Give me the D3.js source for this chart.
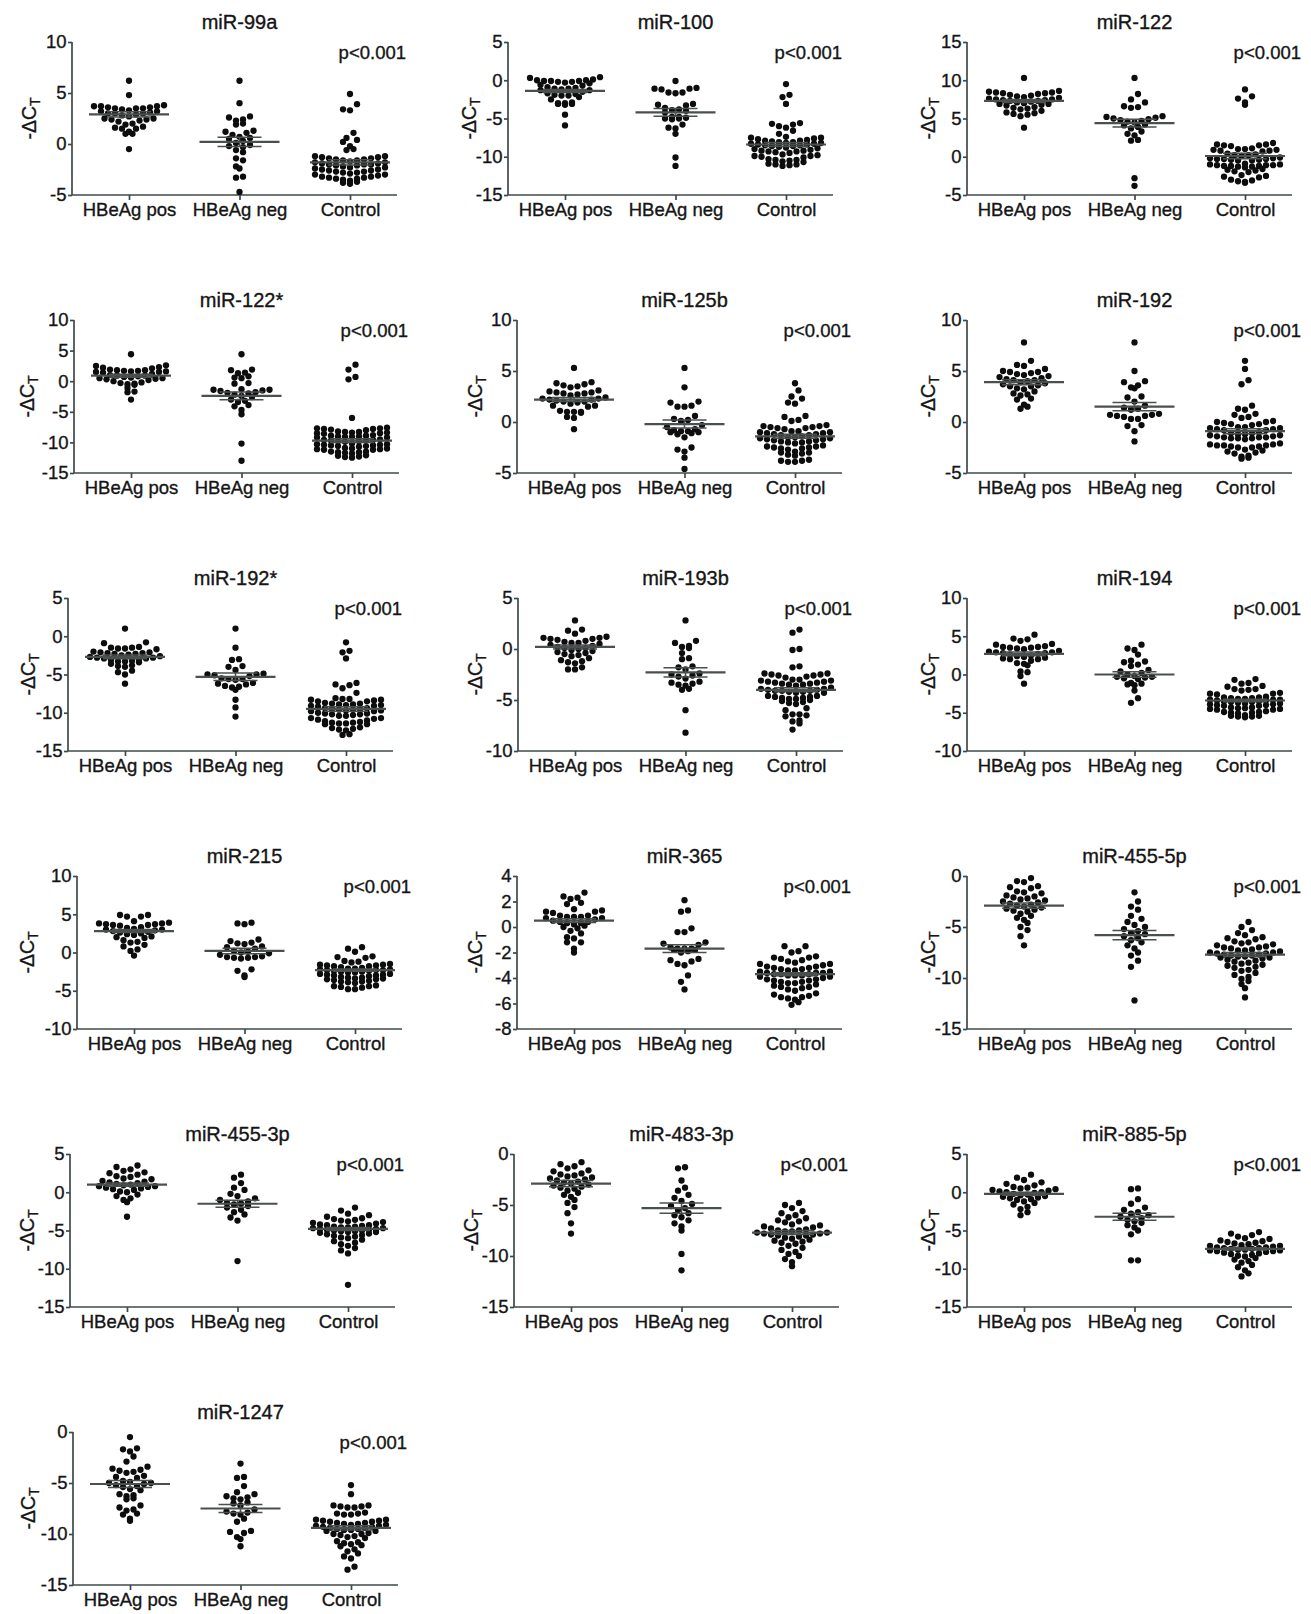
<!DOCTYPE html>
<html><head><meta charset="utf-8">
<script src="https://cdn.jsdelivr.net/npm/d3@7"></script>
<style>
body{margin:0;background:#fff;}
text{font-family:Arial,"Liberation Sans",Helvetica,sans-serif;fill:#151515;}
</style>
</head><body>
<svg id="chart" width="1311" height="1614"></svg>
<script>
const categories = ["HBeAg pos", "HBeAg neg", "Control"];
const mirnas = ["miR-99a","miR-100","miR-122","miR-122*","miR-125b","miR-192","miR-192*","miR-193b","miR-194","miR-215","miR-365","miR-455-5p","miR-455-3p","miR-483-3p","miR-885-5p","miR-1247"];
const yDomains = [[-5,10],[-15,5],[-5,15],[-15,10],[-5,10],[-5,10],[-15,5],[-10,5],[-10,10],[-10,10],[-8,4],[-15,0],[-15,5],[-15,0],[-15,5],[-15,0]];
const yTickSteps = [5,5,5,5,5,5,5,5,5,5,2,5,5,5,5,5];
const pLabels = ["p<0.001","p<0.001","p<0.001","p<0.001","p<0.001","p<0.001","p<0.001","p<0.001","p<0.001","p<0.001","p<0.001","p<0.001","p<0.001","p<0.001","p<0.001","p<0.001"];
const yLabel = "-ΔC";
const yLabelSub = "T";

const hbeagPos = [
 [6.2,4.8,3.8,3.7,3.7,3.7,3.6,3.6,3.5,3.5,3.5,3.4,3.3,3.2,3.2,3.1,3.0,3.0,3.0,2.9,2.8,2.7,2.5,2.5,2.4,2.4,2.3,2.2,2.0,1.9,1.7,1.6,1.5,1.5,1.2,1.0,1.0,-0.5],
 [0.4,0.3,0.1,0.0,0.0,-0.1,-0.1,-0.1,-0.2,-0.2,-0.3,-0.4,-0.6,-0.7,-0.9,-1.0,-1.1,-1.1,-1.2,-1.3,-1.3,-1.5,-1.7,-1.8,-1.9,-2.0,-2.0,-2.2,-2.5,-2.9,-3.0,-3.0,-3.1,-3.1,-3.2,-4.5,-5.9],
 [10.3,8.6,8.5,8.4,8.4,8.3,8.3,8.2,8.1,8.0,7.9,7.8,7.7,7.6,7.5,7.5,7.4,7.4,7.3,7.3,7.2,7.1,7.0,6.9,6.9,6.8,6.7,6.5,6.4,6.3,6.2,6.0,5.8,5.7,5.6,5.5,5.3,3.8],
 [4.4,2.6,2.5,2.3,2.2,2.1,1.9,1.8,1.8,1.7,1.7,1.6,1.6,1.5,1.5,1.4,1.2,1.0,0.9,0.9,0.8,0.7,0.6,0.5,0.5,0.4,0.3,0.2,0.0,-0.2,-0.3,-0.4,-0.5,-0.6,-1.1,-1.7,-1.8,-3.0],
 [5.3,3.9,3.8,3.7,3.6,3.5,3.4,3.1,3.0,2.9,2.9,2.8,2.8,2.7,2.6,2.4,2.3,2.3,2.2,2.2,2.1,2.0,2.0,1.9,1.8,1.6,1.6,1.5,1.1,1.0,1.0,1.0,0.9,0.5,0.4,-0.7],
 [7.8,6.0,5.6,5.5,5.2,5.0,4.9,4.9,4.8,4.7,4.6,4.5,4.4,4.3,4.2,4.1,4.1,4.0,3.9,3.8,3.7,3.6,3.5,3.5,3.3,3.2,3.0,2.8,2.7,2.6,2.3,2.2,1.7,1.5,1.3],
 [1.0,-0.8,-0.9,-1.4,-1.5,-1.5,-1.6,-1.6,-1.7,-2.0,-2.1,-2.1,-2.2,-2.2,-2.3,-2.3,-2.4,-2.5,-2.6,-2.7,-2.8,-2.8,-2.9,-2.9,-3.0,-3.1,-3.2,-3.3,-3.3,-3.4,-3.6,-3.8,-3.9,-4.0,-4.5,-4.7,-5.0,-6.2],
 [2.8,1.9,1.8,1.5,1.2,1.1,1.1,1.0,1.0,0.9,0.8,0.7,0.6,0.6,0.5,0.4,0.3,0.2,0.1,0.1,0.0,-0.1,-0.2,-0.3,-0.4,-0.5,-0.6,-0.7,-0.9,-1.1,-1.2,-1.3,-1.4,-1.8,-2.0,-2.0],
 [5.2,4.7,4.6,4.4,4.0,3.9,3.7,3.6,3.6,3.5,3.5,3.4,3.3,3.1,3.0,2.9,2.9,2.8,2.8,2.7,2.6,2.5,2.4,2.3,2.2,2.1,2.0,2.0,1.8,1.5,1.4,1.2,0.4,0.3,-0.2,-1.2],
 [4.9,4.9,4.7,4.7,4.1,3.9,3.8,3.8,3.7,3.7,3.6,3.6,3.5,3.3,3.2,3.1,3.0,3.0,2.9,2.8,2.7,2.6,2.5,2.4,2.3,2.1,2.0,1.9,1.6,1.4,1.3,1.0,0.8,0.4,0.2,-0.4],
 [2.7,2.4,2.3,2.2,1.9,1.8,1.4,1.3,1.2,1.2,1.1,0.9,0.9,0.8,0.8,0.8,0.7,0.7,0.6,0.5,0.4,0.4,0.3,0.3,0.2,0.1,0.0,-0.1,-0.3,-0.5,-0.8,-0.9,-1.2,-1.2,-1.7,-2.0],
 [-0.2,-0.5,-0.6,-1.0,-1.1,-1.2,-1.5,-1.6,-1.7,-1.9,-2.0,-2.1,-2.2,-2.3,-2.4,-2.5,-2.6,-2.7,-2.8,-2.9,-3.0,-3.1,-3.2,-3.3,-3.4,-3.5,-3.7,-3.9,-4.1,-4.3,-4.6,-5.0,-5.3,-5.9,-6.8],
 [3.5,3.3,3.0,2.8,2.6,2.5,2.3,2.1,2.0,1.8,1.7,1.5,1.4,1.3,1.2,1.1,1.0,0.9,0.8,0.8,0.7,0.6,0.5,0.4,0.3,0.1,0.0,-0.3,-0.5,-0.8,-1.0,-1.3,-3.2],
 [-0.8,-1.0,-1.2,-1.4,-1.6,-1.7,-1.9,-2.0,-2.1,-2.2,-2.3,-2.4,-2.5,-2.6,-2.7,-2.8,-2.9,-3.0,-3.1,-3.2,-3.3,-3.4,-3.6,-3.8,-4.0,-4.2,-4.5,-4.8,-5.2,-5.8,-6.8,-7.8],
 [2.3,1.9,1.6,1.3,1.1,0.9,0.7,0.6,0.5,0.4,0.3,0.2,0.1,0.0,0.0,-0.1,-0.2,-0.3,-0.4,-0.5,-0.6,-0.7,-0.8,-0.9,-1.0,-1.2,-1.4,-1.6,-1.9,-2.2,-2.6,-3.0],
 [-0.5,-1.6,-1.7,-1.9,-2.4,-2.9,-3.4,-3.6,-3.7,-3.8,-3.9,-4.0,-4.3,-4.4,-4.5,-4.8,-4.9,-5.0,-5.0,-5.1,-5.2,-5.3,-5.4,-5.6,-5.7,-6.1,-6.2,-6.3,-6.5,-6.6,-7.2,-7.4,-7.6,-7.7,-8.0,-8.1,-8.5,-8.7]
];

const hbeagNeg = [
 [6.2,4.0,2.7,2.6,2.4,2.3,2.0,1.9,1.3,1.2,1.1,0.9,0.7,0.6,0.5,0.3,0.1,-0.1,-0.2,-0.3,-0.6,-0.8,-1.4,-1.6,-2.2,-2.4,-3.2,-3.3,-4.7],
 [-0.1,-1.0,-1.1,-1.1,-1.2,-1.6,-1.6,-1.7,-3.1,-3.2,-3.3,-3.6,-3.8,-3.9,-4.0,-4.2,-4.8,-4.8,-4.9,-5.0,-5.0,-5.1,-5.8,-6.2,-6.3,-7.0,-10.1,-11.2],
 [10.3,8.2,7.5,7.1,6.6,6.5,6.4,5.3,5.2,5.1,5.0,4.9,4.8,4.7,4.6,4.5,4.2,4.1,3.9,3.7,3.3,3.0,2.8,2.2,2.1,-2.8,-3.8],
 [4.4,1.9,1.8,1.4,1.3,0.8,0.6,0.5,-0.3,-0.4,-1.3,-1.4,-1.4,-1.5,-1.6,-1.8,-1.9,-2.0,-2.2,-2.4,-2.6,-3.0,-3.2,-3.4,-3.9,-4.1,-4.7,-5.4,-10.2,-13.0],
 [5.3,3.4,2.0,1.9,1.6,1.5,1.5,0.6,0.3,0.2,0.1,-0.3,-0.5,-0.7,-0.8,-0.9,-0.9,-1.0,-1.0,-1.1,-1.2,-1.5,-2.5,-2.7,-2.9,-3.5,-4.6],
 [7.8,5.0,4.0,3.9,3.6,3.4,3.3,2.5,2.4,2.0,1.6,1.4,1.3,1.2,0.8,0.7,0.7,0.6,0.6,0.5,0.3,0.3,-0.3,-0.4,-0.9,-1.9],
 [1.0,-1.5,-3.0,-3.1,-3.9,-4.0,-4.4,-4.9,-5.0,-5.0,-5.1,-5.2,-5.5,-5.6,-5.6,-5.7,-6.1,-6.2,-6.3,-6.5,-6.6,-6.7,-7.0,-8.3,-9.3,-10.5],
 [2.8,0.8,0.6,0.3,0.2,0.1,-0.4,-0.9,-1.0,-1.7,-1.8,-2.0,-2.4,-2.5,-2.6,-2.7,-2.9,-3.2,-3.3,-3.4,-3.5,-3.6,-3.9,-4.0,-6.0,-8.2],
 [3.9,3.4,3.2,2.6,1.8,1.7,1.6,1.3,1.1,0.6,0.4,0.2,0.0,-0.2,-0.3,-0.3,-0.4,-0.5,-0.6,-1.1,-1.2,-1.3,-1.4,-2.1,-3.1,-3.7],
 [3.9,3.8,3.7,1.7,1.5,1.3,1.2,1.1,0.8,0.7,0.5,0.2,0.1,0.0,-0.1,-0.3,-0.5,-0.6,-0.6,-0.7,-0.7,-0.8,-2.2,-2.4,-3.0,-3.2],
 [2.1,1.3,1.2,-0.1,-0.4,-0.4,-1.2,-1.3,-1.4,-1.6,-1.7,-1.7,-1.7,-1.8,-1.8,-1.9,-2.0,-2.5,-2.6,-2.7,-2.9,-3.0,-3.8,-4.3,-4.9],
 [-1.6,-2.5,-3.0,-3.3,-3.9,-4.2,-4.5,-4.8,-5.0,-5.2,-5.4,-5.6,-5.7,-5.9,-6.1,-6.3,-6.5,-6.8,-7.1,-7.5,-7.8,-8.3,-8.9,-12.2],
 [2.3,1.9,1.2,0.6,0.3,-0.2,-0.5,-0.8,-1.0,-1.2,-1.4,-1.5,-1.6,-1.8,-2.0,-2.3,-2.6,-2.9,-3.3,-3.7,-9.0],
 [-1.3,-1.4,-2.6,-3.3,-3.6,-4.0,-4.3,-4.6,-4.9,-5.1,-5.3,-5.5,-5.8,-6.0,-6.2,-6.5,-6.8,-7.1,-7.5,-9.8,-11.4],
 [0.5,0.4,-0.9,-1.5,-2.0,-2.3,-2.6,-2.8,-3.0,-3.2,-3.4,-3.6,-3.8,-4.0,-4.3,-4.6,-5.0,-5.5,-8.9,-8.9],
 [-3.1,-4.4,-4.5,-5.3,-5.9,-6.1,-6.3,-6.4,-6.5,-6.6,-6.9,-7.0,-7.2,-7.6,-7.8,-7.9,-8.0,-8.1,-8.5,-8.8,-9.7,-9.8,-9.9,-10.3,-10.5,-11.2]
];

const controlVals = [
 [4.9,3.9,3.4,3.3,1.1,0.6,0.4,0.2,-0.2,-0.5,-0.6,-1.2,-1.2,-1.3,-1.3,-1.4,-1.4,-1.5,-1.5,-1.6,-1.6,-1.7,-1.8,-1.8,-1.9,-1.9,-2.0,-2.0,-2.0,-2.1,-2.1,-2.2,-2.3,-2.3,-2.4,-2.5,-2.5,-2.6,-2.6,-2.7,-2.7,-2.8,-2.8,-2.9,-3.0,-3.0,-3.1,-3.2,-3.2,-3.3,-3.3,-3.4,-3.4,-3.5,-3.6,-3.7,-3.8,-3.9],
 [-0.5,-1.9,-2.2,-3.1,-5.6,-5.7,-5.8,-6.0,-6.2,-6.6,-7.0,-7.4,-7.5,-7.5,-7.6,-7.7,-7.8,-7.9,-7.9,-8.0,-8.1,-8.1,-8.2,-8.2,-8.3,-8.3,-8.4,-8.4,-8.5,-8.5,-8.6,-8.6,-8.7,-8.8,-8.9,-9.0,-9.1,-9.2,-9.2,-9.3,-9.3,-9.4,-9.5,-9.7,-9.8,-9.9,-9.9,-10.0,-10.1,-10.3,-10.4,-10.4,-10.5,-10.6,-10.7,-10.9,-11.0,-11.0,-11.1,-11.2],
 [8.8,7.9,7.6,7.1,6.8,1.8,1.6,1.6,1.5,1.5,1.4,1.1,1.0,1.0,0.9,0.9,0.8,0.8,0.7,0.4,0.3,0.2,0.2,0.1,-0.1,-0.2,-0.2,-0.3,-0.3,-0.3,-0.4,-0.4,-0.5,-0.5,-0.9,-1.0,-1.0,-1.1,-1.1,-1.1,-1.2,-1.2,-1.2,-1.3,-1.3,-1.4,-1.6,-1.7,-1.8,-1.9,-2.0,-2.4,-2.5,-2.6,-2.7,-3.0,-3.1,-3.2,-3.3,-3.4],
 [2.7,1.9,0.7,0.3,-6.0,-7.6,-7.7,-7.7,-7.8,-7.8,-7.9,-8.0,-8.2,-8.3,-8.3,-8.4,-8.4,-8.5,-8.5,-8.6,-8.8,-8.9,-8.9,-9.0,-9.0,-9.1,-9.1,-9.2,-9.2,-9.5,-9.6,-9.6,-9.7,-9.7,-9.8,-9.8,-9.9,-10.2,-10.3,-10.3,-10.4,-10.4,-10.5,-10.5,-10.6,-10.6,-10.7,-10.9,-11.0,-11.0,-11.1,-11.1,-11.2,-11.2,-11.5,-11.5,-11.6,-11.6,-11.7,-11.8,-12.1,-12.2,-12.3,-12.4,-12.5],
 [3.8,3.1,2.5,2.3,1.9,1.8,0.6,0.5,0.2,0.1,-0.3,-0.4,-0.4,-0.5,-0.5,-0.6,-0.6,-0.7,-0.9,-0.9,-1.0,-1.0,-1.1,-1.1,-1.2,-1.2,-1.3,-1.3,-1.4,-1.5,-1.5,-1.6,-1.6,-1.7,-1.7,-1.8,-1.8,-1.9,-1.9,-2.0,-2.0,-2.1,-2.3,-2.4,-2.4,-2.5,-2.5,-2.6,-2.6,-2.7,-2.9,-3.0,-3.0,-3.1,-3.2,-3.3,-3.7,-3.8,-3.8,-3.9,-3.9],
 [6.0,5.2,4.1,3.7,1.6,1.3,1.2,0.8,0.7,0.5,0.4,0.1,0.0,0.0,-0.1,-0.2,-0.2,-0.3,-0.5,-0.5,-0.6,-0.6,-0.7,-0.7,-0.8,-0.8,-1.0,-1.1,-1.1,-1.2,-1.2,-1.3,-1.3,-1.4,-1.4,-1.5,-1.5,-1.5,-1.6,-1.6,-1.6,-1.7,-2.1,-2.2,-2.2,-2.3,-2.3,-2.3,-2.4,-2.4,-2.5,-2.5,-2.7,-2.8,-2.9,-3.0,-3.1,-3.3,-3.4,-3.5,-3.6],
 [-0.8,-1.9,-2.1,-2.9,-6.1,-6.3,-6.4,-6.8,-7.4,-8.1,-8.2,-8.2,-8.3,-8.3,-8.4,-8.5,-8.5,-8.7,-8.8,-8.8,-8.9,-8.9,-9.0,-9.0,-9.1,-9.1,-9.2,-9.4,-9.4,-9.5,-9.5,-9.6,-9.6,-9.7,-9.7,-9.8,-9.8,-10.0,-10.1,-10.1,-10.2,-10.2,-10.3,-10.4,-10.4,-10.7,-10.7,-10.8,-10.9,-11.0,-11.1,-11.2,-11.3,-11.3,-11.4,-11.4,-11.5,-11.5,-11.9,-12.0,-12.1,-12.2,-12.3,-12.8,-12.9],
 [1.9,1.6,0.0,-0.1,-1.7,-1.8,-2.4,-2.4,-2.5,-2.5,-2.6,-2.6,-2.7,-2.8,-3.0,-3.0,-3.1,-3.1,-3.2,-3.2,-3.3,-3.3,-3.4,-3.4,-3.5,-3.5,-3.6,-3.8,-3.9,-3.9,-4.0,-4.0,-4.1,-4.1,-4.1,-4.2,-4.2,-4.3,-4.3,-4.6,-4.6,-4.7,-4.7,-4.8,-4.8,-4.9,-4.9,-5.0,-5.1,-5.2,-5.3,-5.4,-5.8,-6.0,-6.4,-6.4,-6.5,-6.6,-7.0,-7.1,-7.3,-7.9],
 [-0.6,-0.7,-1.1,-1.2,-1.5,-1.6,-1.9,-1.9,-2.0,-2.1,-2.4,-2.5,-2.5,-2.6,-2.9,-3.0,-3.0,-3.1,-3.1,-3.2,-3.2,-3.3,-3.3,-3.3,-3.4,-3.4,-3.5,-3.5,-3.6,-3.6,-3.7,-3.8,-3.8,-3.9,-3.9,-4.0,-4.0,-4.1,-4.1,-4.3,-4.3,-4.4,-4.4,-4.5,-4.5,-4.6,-4.6,-4.8,-4.9,-4.9,-5.0,-5.0,-5.1,-5.3,-5.4,-5.4,-5.5,-5.5,-5.6],
 [0.7,0.5,0.1,-0.5,-0.6,-0.7,-1.1,-1.2,-1.3,-1.5,-1.6,-1.6,-1.7,-1.7,-1.8,-1.8,-1.9,-2.0,-2.1,-2.1,-2.2,-2.2,-2.3,-2.3,-2.3,-2.4,-2.4,-2.5,-2.5,-2.6,-2.6,-2.8,-2.8,-2.9,-2.9,-3.0,-3.0,-3.1,-3.2,-3.3,-3.3,-3.4,-3.4,-3.5,-3.5,-3.6,-3.7,-3.8,-3.8,-3.9,-4.0,-4.3,-4.4,-4.4,-4.5,-4.6,-4.8,-4.8],
 [-1.5,-1.5,-1.9,-2.0,-2.3,-2.4,-2.4,-2.5,-2.6,-2.7,-2.8,-2.9,-2.9,-3.0,-3.1,-3.1,-3.2,-3.2,-3.3,-3.3,-3.4,-3.4,-3.5,-3.5,-3.6,-3.6,-3.6,-3.7,-3.7,-3.7,-3.8,-3.8,-3.8,-3.9,-3.9,-4.0,-4.1,-4.1,-4.2,-4.2,-4.3,-4.3,-4.4,-4.4,-4.5,-4.6,-4.7,-4.7,-4.8,-4.9,-5.0,-5.2,-5.3,-5.4,-5.5,-5.5,-5.6,-5.7,-5.9,-6.1],
 [-4.5,-5.0,-5.3,-5.6,-5.8,-6.0,-6.1,-6.2,-6.4,-6.5,-6.6,-6.7,-6.8,-6.9,-7.0,-7.0,-7.1,-7.2,-7.3,-7.3,-7.4,-7.5,-7.5,-7.6,-7.6,-7.7,-7.7,-7.8,-7.8,-7.9,-7.9,-8.0,-8.0,-8.1,-8.2,-8.3,-8.4,-8.5,-8.6,-8.7,-8.8,-8.9,-9.0,-9.2,-9.3,-9.5,-9.7,-9.9,-10.1,-10.3,-10.6,-11.0,-11.9],
 [-2.0,-2.4,-2.8,-3.0,-3.2,-3.4,-3.5,-3.6,-3.7,-3.8,-3.9,-4.0,-4.1,-4.2,-4.3,-4.3,-4.4,-4.5,-4.5,-4.6,-4.6,-4.7,-4.7,-4.8,-4.8,-4.9,-4.9,-5.0,-5.0,-5.1,-5.1,-5.2,-5.2,-5.3,-5.4,-5.5,-5.6,-5.7,-5.8,-5.9,-6.0,-6.2,-6.4,-6.6,-6.8,-7.0,-7.3,-7.6,-8.0,-12.1],
 [-4.8,-5.0,-5.3,-5.6,-5.8,-6.0,-6.2,-6.3,-6.5,-6.6,-6.7,-6.9,-7.0,-7.1,-7.2,-7.3,-7.4,-7.5,-7.5,-7.6,-7.6,-7.7,-7.7,-7.8,-7.8,-7.9,-7.9,-8.0,-8.0,-8.1,-8.2,-8.3,-8.4,-8.5,-8.6,-8.7,-8.8,-9.0,-9.2,-9.4,-9.6,-9.8,-10.0,-10.3,-10.6,-11.0],
 [-5.2,-5.4,-5.6,-5.8,-6.0,-6.1,-6.3,-6.4,-6.5,-6.6,-6.7,-6.8,-6.9,-7.0,-7.0,-7.1,-7.2,-7.2,-7.3,-7.3,-7.4,-7.4,-7.5,-7.5,-7.6,-7.6,-7.7,-7.7,-7.8,-7.9,-8.0,-8.1,-8.2,-8.3,-8.4,-8.6,-8.8,-9.0,-9.2,-9.5,-9.8,-10.2,-10.6,-11.0],
 [-5.2,-6.1,-7.2,-7.2,-7.3,-7.3,-7.4,-7.4,-7.9,-8.0,-8.0,-8.1,-8.1,-8.6,-8.6,-8.7,-8.7,-8.8,-8.8,-8.9,-8.9,-9.0,-9.0,-9.1,-9.1,-9.2,-9.2,-9.3,-9.3,-9.4,-9.4,-9.5,-9.5,-9.6,-9.6,-9.7,-9.7,-9.9,-10.0,-10.0,-10.1,-10.2,-10.3,-10.4,-10.7,-10.8,-10.9,-11.0,-11.1,-11.2,-11.5,-11.7,-11.9,-12.2,-12.4,-13.2,-13.5]
];

// group means and SEM, as drawn in the figure
const groupMeans = [[2.9,0.2,-1.8],[-1.4,-4.2,-8.4],[7.3,4.4,0.1],[0.9,-2.4,-9.7],[2.2,-0.2,-1.4],[3.9,1.5,-0.9],[-2.7,-5.3,-9.5],[0.2,-2.3,-4.0],[2.7,0.0,-3.4],[2.8,0.2,-2.3],[0.5,-1.7,-3.7],[-2.9,-5.8,-7.7],[1.0,-1.5,-4.8],[-2.9,-5.3,-7.7],[-0.2,-3.2,-7.4],[-5.1,-7.5,-9.4]];
const groupSems = [[0.25,0.45,0.25],[0.2,0.5,0.25],[0.2,0.5,0.35],[0.25,0.65,0.3],[0.2,0.4,0.2],[0.25,0.4,0.25],[0.25,0.5,0.3],[0.2,0.45,0.2],[0.25,0.35,0.15],[0.2,0.35,0.15],[0.15,0.3,0.12],[0.25,0.45,0.2],[0.2,0.45,0.2],[0.3,0.5,0.2],[0.2,0.45,0.15],[0.35,0.4,0.2]];

// ---- layout (pixels) ----
const axisLeft = [72,508,967, 74,517,967, 68,518,967, 77,517,967, 70,514,967, 73];
const yTitleX = [36,476,935, 34,482,935, 35,482,935, 34,482,935, 34,478,935, 35];
const plotW = 325, plotH = 153, rowStep = 278, firstTop = 42;
const catOffsets = [57, 278];
const dotR = 3.15, dotGap = 7, rowH = 6.5, maxPerRow = 11;

const svg = d3.select("#chart");
svg.append("rect").attr("width",1311).attr("height",1614).attr("fill","#fff");

// Prism-like scatter: consecutive values grouped into horizontal rows
function swarm(values, cx, y) {
  const sorted = values.slice().sort((a, b) => b - a);
  const rows = [];
  let cur = null;
  sorted.forEach(v => {
    const py = y(v);
    if (!cur || py - cur.start >= rowH || cur.vals.length >= maxPerRow) {
      cur = { start: py, vals: [] };
      rows.push(cur);
    }
    cur.vals.push(v);
  });
  const out = [];
  rows.forEach(r => {
    const s = r.vals.slice().sort((a, b) => a - b);
    const n = s.length;
    const offs = d3.range(n).map(i => (i - (n - 1) / 2) * dotGap)
      .sort((a, b) => Math.abs(a) - Math.abs(b) || a - b);
    s.forEach((v, i) => out.push({ v, x: cx + offs[i], y: y(v) }));
  });
  return out;
}

const ink = "#151515";
mirnas.forEach((name, i) => {
  const row = Math.floor(i / 3);
  const ax = axisLeft[i];
  const top = firstTop + rowStep * row;
  const bottom = top + plotH;
  const g = svg.append("g");
  const y = d3.scaleLinear().domain(yDomains[i]).range([bottom, top]);
  const x = d3.scalePoint().domain(categories).range([ax + catOffsets[0], ax + catOffsets[1]]);
  const ticks = d3.range(yDomains[i][0], yDomains[i][1] + 1e-9, yTickSteps[i]);

  const yAx = g.append("g").attr("transform", `translate(${ax},0)`)
    .call(d3.axisLeft(y).tickValues(ticks).tickSize(4).tickSizeOuter(0).tickPadding(1.5).tickFormat(d3.format("d")));
  yAx.select(".domain").attr("d", `M0,${top}V${bottom}`);
  const xAx = g.append("g").attr("transform", `translate(0,${bottom})`)
    .call(d3.axisBottom(x).tickSize(5).tickSizeOuter(0).tickPadding(3.2));
  xAx.select(".domain").attr("d", `M${ax},0H${ax + plotW}`);
  g.selectAll(".domain, .tick line").attr("stroke", "#3f4949").attr("stroke-width", 1.7);
  g.selectAll(".tick text").attr("font-size", 18.5).attr("fill", ink)
    .attr("stroke", ink).attr("stroke-width", 0.35)
    .attr("font-family", "Arial, 'Liberation Sans', sans-serif");
  yAx.selectAll(".tick text").text(d => d < 0 ? "-" + Math.abs(d) : d);

  // title
  g.append("text").attr("x", x(categories[1])).attr("y", top - 13)
    .attr("text-anchor", "middle").attr("font-size", 20).attr("stroke", ink).attr("stroke-width", 0.35).text(name);
  // p value
  g.append("text").attr("x", ax + 334).attr("y", top + 16.5)
    .attr("text-anchor", "end").attr("font-size", 18.5).attr("stroke", ink).attr("stroke-width", 0.35).text(pLabels[i]);
  // y title
  const yt = g.append("text").attr("transform", `translate(${yTitleX[i]},${(top + bottom) / 2}) rotate(-90)`)
    .attr("text-anchor", "middle").attr("font-size", 19.5).attr("stroke", ink).attr("stroke-width", 0.35);
  yt.append("tspan").text(yLabel);
  yt.append("tspan").attr("font-size", 14).attr("dy", 4).text(yLabelSub);

  const groups = [hbeagPos[i], hbeagNeg[i], controlVals[i]];
  groups.forEach((vals, k) => {
    const cx = x(categories[k]);
    const pts = swarm(vals, cx, y);
    g.append("g").selectAll("circle").data(pts).join("circle")
      .attr("cx", d => d.x).attr("cy", d => d.y).attr("r", dotR).attr("fill", "#0d0d0d");
    const m = groupMeans[i][k], s = groupSems[i][k];
    const lg = g.append("g").attr("stroke", "#4a4f4f");
    lg.append("line").attr("x1", cx - 40).attr("x2", cx + 40).attr("y1", y(m)).attr("y2", y(m)).attr("stroke-width", 2.2);
    lg.append("line").attr("x1", cx).attr("x2", cx).attr("y1", y(m + s)).attr("y2", y(m - s)).attr("stroke-width", 1.5);
    lg.append("line").attr("x1", cx - 22).attr("x2", cx + 22).attr("y1", y(m + s)).attr("y2", y(m + s)).attr("stroke-width", 1.5);
    lg.append("line").attr("x1", cx - 22).attr("x2", cx + 22).attr("y1", y(m - s)).attr("y2", y(m - s)).attr("stroke-width", 1.5);
  });
});
</script>
</body></html>
